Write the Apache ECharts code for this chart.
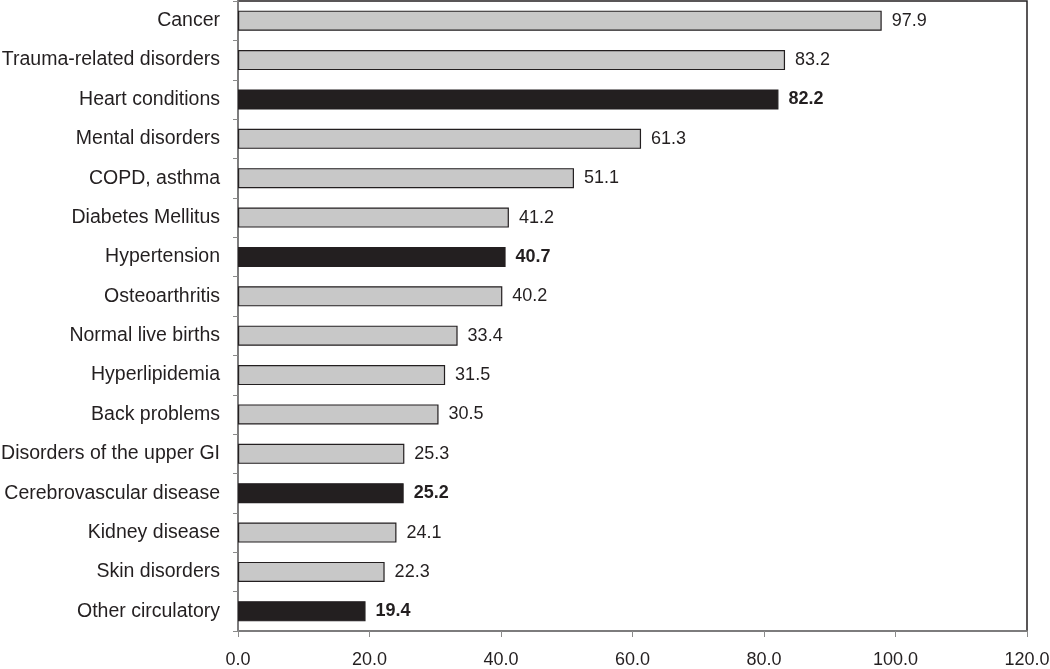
<!DOCTYPE html>
<html><head><meta charset="utf-8">
<script src="https://cdn.jsdelivr.net/npm/echarts@6/dist/echarts.min.js"></script>
<style>html,body{margin:0;padding:0;background:#fff}#c{width:1050px;height:669px}</style>
</head><body><div id="c"></div>
<script>
const categories = ["Cancer","Trauma-related disorders","Heart conditions","Mental disorders","COPD, asthma","Diabetes Mellitus","Hypertension","Osteoarthritis","Normal live births","Hyperlipidemia","Back problems","Disorders of the upper GI","Cerebrovascular disease","Kidney disease","Skin disorders","Other circulatory"];
const values = [97.9,83.2,82.2,61.3,51.1,41.2,40.7,40.2,33.4,31.5,30.5,25.3,25.2,24.1,22.3,19.4];
const highlighted = ["Heart conditions","Hypertension","Cerebrovascular disease","Other circulatory"];
const xTicks = [0,20,40,60,80,100,120];

const dark = '#231f20';
const data = categories.map((c,i)=>{
  const h = highlighted.includes(c);
  return {
    value: values[i],
    itemStyle: {color: h ? dark : '#c8c8c8', borderColor: dark, borderWidth: 1.2},
    label: {fontWeight: h ? 'bold' : 'normal'}
  };
});
const chart = echarts.init(document.getElementById('c'));
chart.setOption({
  animation: false,
  grid: {left: 238, right: 23, top: 1, bottom: 38, show: true, borderColor: dark, borderWidth: 1.5, containLabel: false, outerBoundsMode: 'none'},
  xAxis: {
    type: 'value', min: xTicks[0], max: xTicks[xTicks.length-1], interval: 20,
    axisLine: {show: true, lineStyle: {color: '#8a8a8a', width: 1.5}},
    axisTick: {show: true, length: 6, lineStyle: {color: '#8a8a8a'}},
    splitLine: {show: false},
    axisLabel: {color: dark, fontSize: 18, fontFamily: 'Liberation Sans, Arial', margin: 20, formatter: v => v.toFixed(1)}
  },
  yAxis: {
    type: 'category', data: categories, inverse: true,
    axisLine: {show: true, lineStyle: {color: '#8a8a8a', width: 1.5}},
    axisTick: {show: true, length: 5, lineStyle: {color: '#8a8a8a'}},
    axisLabel: {color: dark, fontSize: 19.5, fontFamily: 'Liberation Sans, Arial', margin: 18}
  },
  series: [{
    type: 'bar', data: data, barCategoryGap: '49%',
    label: {show: true, position: 'right', distance: 10, color: dark, fontSize: 18, fontFamily: 'Liberation Sans, Arial', formatter: p => p.value.toFixed(1)}
  }]
});
</script></body></html>
